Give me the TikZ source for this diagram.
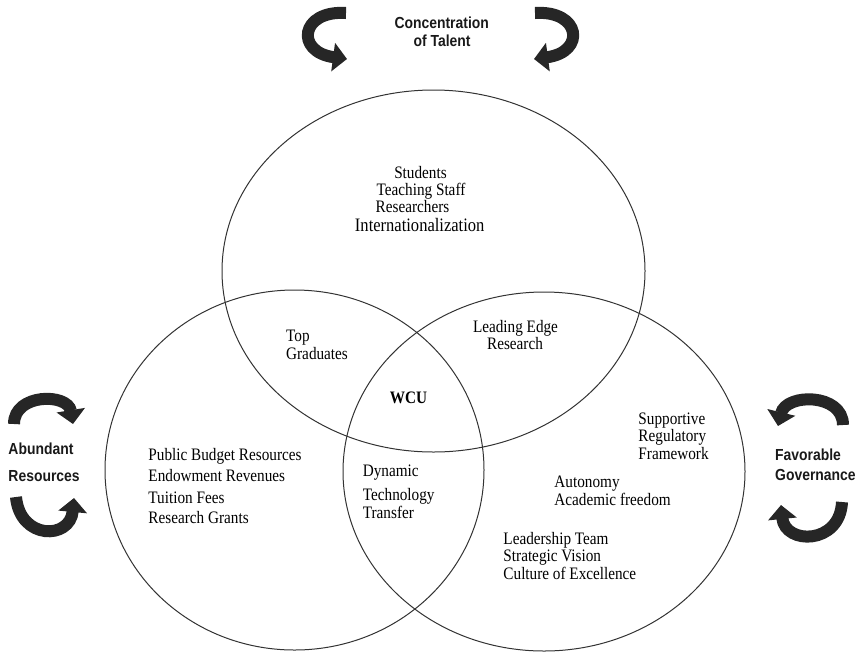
\documentclass[tikz,border=0pt]{standalone}
\usepackage{fontspec}
\setmainfont{Liberation Serif}
\newfontfamily\labelfont{Liberation Sans}
\usetikzlibrary{shapes.geometric,arrows.meta}
\begin{document}
\begin{tikzpicture}[x=1pt,y=-1pt,
  venn/.style={ellipse, draw=black!80, line width=1pt, inner sep=0pt},
  txt/.style={font=\fontsize{17.5}{17.5}\selectfont, xscale=0.87, inner sep=0pt, text=black},
  bigtxt/.style={font=\fontsize{19}{19}\selectfont, xscale=0.87, inner sep=0pt, text=black},
  side/.style={font=\labelfont\bfseries\fontsize{16}{18}\selectfont, xscale=0.87, inner sep=0pt, text=black!90},
  curl/.style={line width=12pt, black!85, -{Triangle[width=28pt,length=14pt]}}
]
\useasboundingbox (0,0) rectangle (858,657);

% ellipses
\node[venn, minimum width=423pt, minimum height=362pt] (talent) at (433.5,271) {};
\node[venn, minimum width=379pt, minimum height=360pt] (resources) at (294.5,470) {};
\node[venn, minimum width=402pt, minimum height=359pt] (governance) at (544,471.5) {};

% side labels
\node[side, anchor=base] (c1) at (441.7,28.3) {Concentration};
\node[side, anchor=base] (c2) at (442,46.7) {of Talent};
\node[side, anchor=base west] (a1) at (8.3,454) {Abundant};
\node[side, anchor=base west] (a2) at (8.3,481.7) {Resources};
\node[side, anchor=base west] (f1) at (775,460.7) {Favorable};
\node[side, anchor=base west] (f2) at (775,480) {Governance};

% curved arrows
\draw[curl] (346,13) .. controls (300,10) and (295,52) .. (347,59);
\draw[curl] (535,13) .. controls (581,10) and (586,52) .. (534,59);
\draw[curl] (14,424) .. controls (14,393) and (68,393) .. (73,424);
\draw[curl] (16,497) .. controls (20,540) and (70,540) .. (74,498);
\draw[curl] (843,425) .. controls (843,393) and (786,393) .. (778,426);
\draw[curl] (842,502) .. controls (840,545) and (785,545) .. (781,505);

% top ellipse texts
\node[txt, anchor=base] (t1) at (420.5,178.5) {Students};
\node[txt, anchor=base] (t2) at (421,195.5) {Teaching Staff};
\node[txt, anchor=base] (t3) at (412.5,212.5) {Researchers};
\node[bigtxt, anchor=base] (t4) at (419.7,231) {Internationalization};

% intersections
\node[txt, anchor=base west] (g1) at (286,341.7) {Top};
\node[txt, anchor=base west] (g2) at (286,359) {Graduates};
\node[txt, anchor=base] (l1) at (515.5,332.7) {Leading Edge};
\node[txt, anchor=base] (l2) at (515,349.3) {Research};
\node[txt, anchor=base, font=\fontsize{17.5}{17.5}\selectfont\bfseries] (wcu) at (408.5,403.3) {WCU};
\node[txt, anchor=base west] (d1) at (362.7,476.7) {Dynamic};
\node[txt, anchor=base west] (d2) at (362.7,500) {Technology};
\node[txt, anchor=base west] (d3) at (362.7,518) {Transfer};

% left ellipse
\node[txt, anchor=base west] (r1) at (148.3,460.7) {Public Budget Resources};
\node[txt, anchor=base west] (r2) at (148.3,481.7) {Endowment Revenues};
\node[txt, anchor=base west] (r3) at (148.3,503) {Tuition Fees};
\node[txt, anchor=base west] (r4) at (148.3,523) {Research Grants};

% right ellipse
\node[txt, anchor=base west] (s1) at (638.3,424) {Supportive};
\node[txt, anchor=base west] (s2) at (638.3,441.7) {Regulatory};
\node[txt, anchor=base west] (s3) at (638.3,459.3) {Framework};
\node[txt, anchor=base west] (u1) at (554.3,487.3) {Autonomy};
\node[txt, anchor=base west] (u2) at (554.3,505) {Academic freedom};
\node[txt, anchor=base west] (e1) at (503.3,544) {Leadership Team};
\node[txt, anchor=base west] (e2) at (503.3,561.7) {Strategic Vision};
\node[txt, anchor=base west] (e3) at (503.3,579.3) {Culture of Excellence};
\end{tikzpicture}
\end{document}
